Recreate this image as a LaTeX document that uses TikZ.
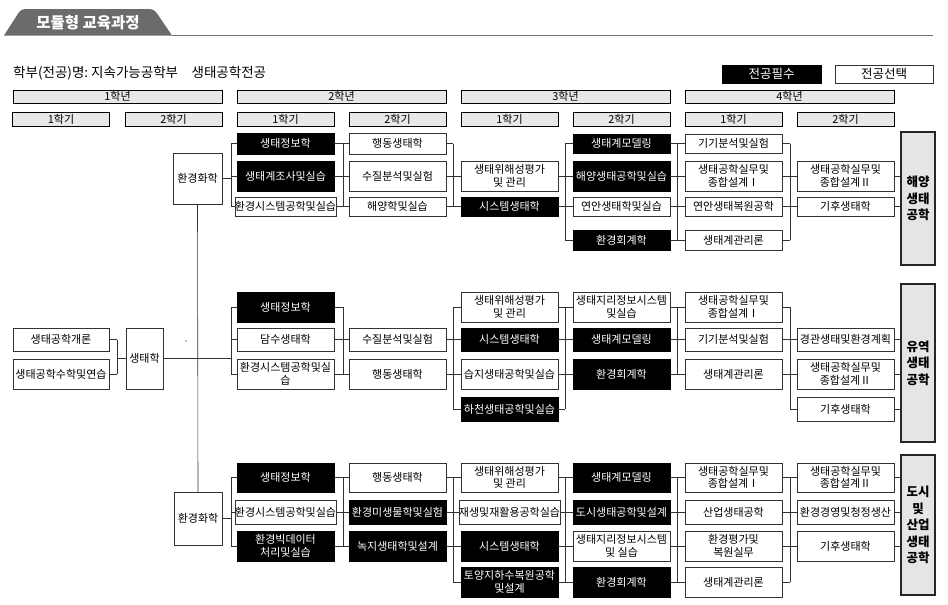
\documentclass[tikz,border=0pt]{standalone}
\usepackage{fontspec}
\setmainfont{Noto Sans CJK KR}
\usetikzlibrary{positioning}
\tikzset{>=stealth}
\colorlet{background}{white}
\colorlet{barfill}{black!9}
\colorlet{tabgray}{black!58}
\tikzset{
  coursebox/.style={draw=black!80, minimum width=97pt, inner sep=0pt, align=center,
    font=\fontsize{11}{12.5}\selectfont},
  reqbox/.style={coursebox, draw=black, fill=black, text=white},
  optbox/.style={coursebox, fill=white},
  termbar/.style={draw=black, line width=0.9pt, fill=barfill, inner sep=0pt,
    font=\fontsize{11}{11}\selectfont},
  trackbox/.style={draw=black!85, line width=1.2pt, fill=black!10, minimum width=34pt,
    inner sep=0pt, align=center, font=\bfseries\fontsize{12.5}{16.5}\selectfont},
  wire/.style={draw=black!80, line width=0.6pt}
}

\begin{document}
\begin{tikzpicture}[x=1pt,y=-1pt]
        \useasboundingbox (0,0) rectangle (948,605);
        % title tab
        \fill[tabgray] (4,35.5) [rounded corners=4pt] -- (21,9) -- (154,9) [sharp corners] -- (172,35.5) -- cycle;
        \node[text=white, font=\bfseries\fontsize{15.5}{15.5}\selectfont] (tab) at (88,22.5) {모듈형 교육과정};
        \draw[black!55, line width=1pt] (172,35.5) -- (933,35.5);
        \node[anchor=west, inner sep=0pt, font=\fontsize{13.5}{14}\selectfont] (dept) at (13,73) {학부(전공)명:\ 지속가능공학부\quad 생태공학전공};
        \node[reqbox, minimum width=99pt, minimum height=18pt, font=\fontsize{12.5}{12.5}\selectfont] (keyreq) at (771.5,74) {전공필수};
        \node[optbox, minimum width=98pt, minimum height=18pt, font=\fontsize{12.5}{12.5}\selectfont] (keyopt) at (884,74) {전공선택};
        % years and terms
        \foreach \x [count=\i] in {117.5,341.5,565.5,789.5}
          \node[termbar, minimum width=209pt, minimum height=13pt] (year\i) at (\x,96.5) {\i{}학년};
        \foreach \x/\t [count=\i] in {61/1,173.5/2,285.5/1,397.5/2,509.5/1,621.5/2,733.5/1,845.5/2}
          \node[termbar, minimum width=97pt, minimum height=14pt] (term\i) at (\x,119) {\t{}학기};
        % bus lines
        \coordinate (b2) at (117,0);
        \coordinate (b3) at (231,0);
        \coordinate (b4) at (343,0);
        \coordinate (b5) at (453,0);
        \coordinate (b6) at (565,0);
        \coordinate (b7) at (677,0);
        \coordinate (b8) at (790,0);

        % 해양생태공학
        \node[optbox, minimum width=49pt, minimum height=51pt] (mchem) at (197.5,178.5) {환경화학};
        \node[reqbox, minimum height=21pt] (m3a) at (285.5,143.5) {생태정보학};
        \node[reqbox, minimum height=30pt] (m3b) at (285.5,176) {생태계조사및실습};
        \node[optbox, minimum height=19pt] (m3c) at (285.5,206.5) {환경시스템공학및실습};
        \node[optbox, minimum height=21pt] (m4a) at (397.5,143.5) {행동생태학};
        \node[optbox, minimum height=30pt] (m4b) at (397.5,176) {수질분석및실험};
        \node[optbox, minimum height=19pt] (m4c) at (397.5,206.5) {해양학및실습};
        \node[optbox, minimum height=30pt] (m5b) at (509.5,176) {생태위해성평가\\및 관리};
        \node[reqbox, minimum height=19pt] (m5c) at (509.5,206.5) {시스템생태학};
        \node[reqbox, minimum height=19pt] (m6a) at (621.5,143.5) {생태계모델링};
        \node[reqbox, minimum height=30pt] (m6b) at (621.5,176) {해양생태공학및실습};
        \node[optbox, minimum height=19pt] (m6c) at (621.5,206.5) {연안생태학및실습};
        \node[reqbox, minimum height=20pt] (m6d) at (621.5,240) {환경회계학};
        \node[optbox, minimum height=19pt] (m7a) at (733.5,143.5) {기기분석및실험};
        \node[optbox, minimum height=30pt] (m7b) at (733.5,176) {생태공학실무및\\종합설계Ⅰ};
        \node[optbox, minimum height=19pt] (m7c) at (733.5,206.5) {연안생태복원공학};
        \node[optbox, minimum height=20pt] (m7d) at (733.5,240) {생태계관리론};
        \node[optbox, minimum height=30pt] (m8b) at (845.5,176) {생태공학실무및\\종합설계Ⅱ};
        \node[optbox, minimum height=19pt] (m8c) at (845.5,206.5) {기후생태학};
        \node[trackbox, minimum height=133pt] (mtrack) at (918,198.5) {해양\\생태\\공학};

        \draw[wire] (mchem.east) -- (mchem.east -| b3);
        \draw[wire] (b3 |- m3a.west) -- (b3 |- m3c.west);
        \foreach \n in {m3a,m3b,m3c} \draw[wire] (b3 |- \n.west) -- (\n.west);
        \foreach \n in {m3a,m3b,m3c} \draw[wire] (\n.east) -- (\n.east -| b4);
        \draw[wire] (b4 |- m4a.west) -- (b4 |- m4c.west);
        \foreach \n in {m4a,m4b,m4c} \draw[wire] (b4 |- \n.west) -- (\n.west);
        \foreach \n in {m4a,m4b,m4c} \draw[wire] (\n.east) -- (\n.east -| b5);
        \draw[wire] (b5 |- m4a.east) -- (b5 |- m5c.west);
        \foreach \n in {m5b,m5c} \draw[wire] (b5 |- \n.west) -- (\n.west);
        \foreach \n in {m5b,m5c} \draw[wire] (\n.east) -- (\n.east -| b6);
        \draw[wire] (b6 |- m6a.west) -- (b6 |- m6d.west);
        \foreach \n in {m6a,m6b,m6c,m6d} \draw[wire] (b6 |- \n.west) -- (\n.west);
        \foreach \n in {m6a,m6b,m6c,m6d} \draw[wire] (\n.east) -- (\n.east -| b7);
        \draw[wire] (b7 |- m7a.west) -- (b7 |- m7d.west);
        \foreach \n in {m7a,m7b,m7c,m7d} \draw[wire] (b7 |- \n.west) -- (\n.west);
        \foreach \n in {m7a,m7b,m7c,m7d} \draw[wire] (\n.east) -- (\n.east -| b8);
        \draw[wire] (b8 |- m7a.east) -- (b8 |- m7d.east);
        \foreach \n in {m8b,m8c} \draw[wire] (b8 |- \n.west) -- (\n.west);
        \foreach \n in {m8b,m8c} \draw[wire] (\n.east) -- (\n.east -| mtrack.west);

        % 유역생태공학
        \node[optbox, minimum width=96pt, minimum height=23pt] (w1a) at (61,339.5) {생태공학개론};
        \node[optbox, minimum width=96pt, minimum height=30pt] (w1b) at (61,374) {생태공학수학및연습};
        \node[optbox, minimum width=37pt, minimum height=61pt] (weco) at (144.5,358.5) {생태학};
        \node[reqbox, minimum height=30pt] (w3a) at (285.5,307) {생태정보학};
        \node[optbox, minimum height=23pt] (w3b) at (285.5,339.5) {담수생태학};
        \node[optbox, minimum height=30pt] (w3c) at (285.5,374) {환경시스템공학및실\\습};
        \node[optbox, minimum height=23pt] (w4b) at (397.5,339.5) {수질분석및실험};
        \node[optbox, minimum height=30pt] (w4c) at (397.5,374) {행동생태학};
        \node[optbox, minimum height=30pt] (w5a) at (509.5,307) {생태위해성평가\\및 관리};
        \node[reqbox, minimum height=23pt] (w5b) at (509.5,339.5) {시스템생태학};
        \node[optbox, minimum height=30pt] (w5c) at (509.5,374) {습지생태공학및실습};
        \node[reqbox, minimum height=24pt] (w5d) at (509.5,409) {하천생태공학및실습};
        \node[optbox, minimum height=30pt] (w6a) at (621.5,307) {생태지리정보시스템\\및실습};
        \node[reqbox, minimum height=23pt] (w6b) at (621.5,339.5) {생태계모델링};
        \node[reqbox, minimum height=30pt] (w6c) at (621.5,374) {환경회계학};
        \node[optbox, minimum height=30pt] (w7a) at (733.5,307) {생태공학실무및\\종합설계Ⅰ};
        \node[optbox, minimum height=23pt] (w7b) at (733.5,339.5) {기기분석및실험};
        \node[optbox, minimum height=30pt] (w7c) at (733.5,374) {생태계관리론};
        \node[optbox, minimum height=23pt] (w8b) at (845.5,339.5) {경관생태및환경계획};
        \node[optbox, minimum height=30pt] (w8c) at (845.5,374) {생태공학실무및\\종합설계Ⅱ};
        \node[optbox, minimum height=24pt] (w8d) at (845.5,409) {기후생태학};
        \node[trackbox, minimum height=158pt] (wtrack) at (918,363) {유역\\생태\\공학};
        \fill (186,341) circle (0.7pt);

        \foreach \n in {w1a,w1b} \draw[wire] (\n.east) -- (\n.east -| b2);
        \draw[wire] (b2 |- w1a.east) -- (b2 |- w1b.east);
        \draw[wire] (b2 |- weco.west) -- (weco.west);
        \draw[wire] (weco.east) -- (weco.east -| b3);
        \draw[wire] (b3 |- w3a.west) -- (b3 |- w3c.west);
        \foreach \n in {w3a,w3b,w3c} \draw[wire] (b3 |- \n.west) -- (\n.west);
        \foreach \n in {w3a,w3b,w3c} \draw[wire] (\n.east) -- (\n.east -| b4);
        \draw[wire] (b4 |- w3a.east) -- (b4 |- w3c.east);
        \foreach \n in {w4b,w4c} \draw[wire] (b4 |- \n.west) -- (\n.west);
        \foreach \n in {w4b,w4c} \draw[wire] (\n.east) -- (\n.east -| b5);
        \draw[wire] (b5 |- w5a.west) -- (b5 |- w5d.west);
        \foreach \n in {w5a,w5b,w5c,w5d} \draw[wire] (b5 |- \n.west) -- (\n.west);
        \foreach \n in {w5a,w5b,w5c,w5d} \draw[wire] (\n.east) -- (\n.east -| b6);
        \draw[wire] (b6 |- w5a.east) -- (b6 |- w5d.east);
        \foreach \n in {w6a,w6b,w6c} \draw[wire] (b6 |- \n.west) -- (\n.west);
        \foreach \n in {w6a,w6b,w6c} \draw[wire] (\n.east) -- (\n.east -| b7);
        \draw[wire] (b7 |- w7a.west) -- (b7 |- w7c.west);
        \foreach \n in {w7a,w7b,w7c} \draw[wire] (b7 |- \n.west) -- (\n.west);
        \foreach \n in {w7a,w7b,w7c} \draw[wire] (\n.east) -- (\n.east -| b8);
        \draw[wire] (b8 |- w7a.east) -- (b8 |- w8d.west);
        \foreach \n in {w8b,w8c,w8d} \draw[wire] (b8 |- \n.west) -- (\n.west);
        \foreach \n in {w8b,w8c,w8d} \draw[wire] (\n.east) -- (\n.east -| wtrack.west);

        % 도시 및 산업생태공학
        \node[optbox, minimum width=48pt, minimum height=53pt] (uchem) at (198,518.5) {환경화학};
        \node[reqbox, minimum height=29pt] (u3a) at (285.5,477.5) {생태정보학};
        \node[optbox, minimum height=24pt] (u3b) at (285.5,512) {환경시스템공학및실습};
        \node[reqbox, minimum height=30pt] (u3c) at (285.5,546) {환경빅데이터\\처리및실습};
        \node[optbox, minimum height=29pt] (u4a) at (397.5,477.5) {행동생태학};
        \node[reqbox, minimum height=24pt] (u4b) at (397.5,512) {환경미생물학및실험};
        \node[reqbox, minimum height=30pt] (u4c) at (397.5,546) {녹지생태학및설계};
        \node[optbox, minimum height=29pt] (u5a) at (509.5,477.5) {생태위해성평가\\및 관리};
        \node[optbox, minimum height=24pt] (u5b) at (509.5,512) {재생및재활용공학실습};
        \node[reqbox, minimum height=30pt] (u5c) at (509.5,546) {시스템생태학};
        \node[reqbox, minimum height=30pt] (u5d) at (509.5,582) {토양지하수복원공학\\및설계};
        \node[reqbox, minimum height=29pt] (u6a) at (621.5,477.5) {생태계모델링};
        \node[reqbox, minimum height=24pt] (u6b) at (621.5,512) {도시생태공학및설계};
        \node[optbox, minimum height=30pt] (u6c) at (621.5,546) {생태지리정보시스템\\및 실습};
        \node[reqbox, minimum height=30pt] (u6d) at (621.5,582) {환경회계학};
        \node[optbox, minimum height=29pt] (u7a) at (733.5,477.5) {생태공학실무및\\종합설계Ⅰ};
        \node[optbox, minimum height=24pt] (u7b) at (733.5,512) {산업생태공학};
        \node[optbox, minimum height=30pt] (u7c) at (733.5,546) {환경평가및\\복원실무};
        \node[optbox, minimum height=30pt] (u7d) at (733.5,582) {생태계관리론};
        \node[optbox, minimum height=29pt] (u8a) at (845.5,477.5) {생태공학실무및\\종합설계Ⅱ};
        \node[optbox, minimum height=24pt] (u8b) at (845.5,512) {환경경영및청정생산};
        \node[optbox, minimum height=30pt] (u8c) at (845.5,546) {기후생태학};
        \node[trackbox, minimum height=140pt] (utrack) at (918,525) {도시\\및\\산업\\생태\\공학};

        \draw[wire] (mchem.south) -- (uchem.north);
        \draw[wire] (uchem.east) -- (uchem.east -| b3);
        \draw[wire] (b3 |- u3a.west) -- (b3 |- u3c.west);
        \foreach \n in {u3a,u3b,u3c} \draw[wire] (b3 |- \n.west) -- (\n.west);
        \foreach \n in {u3a,u3b,u3c} \draw[wire] (\n.east) -- (\n.east -| b4);
        \draw[wire] (b4 |- u4a.west) -- (b4 |- u4c.west);
        \foreach \n in {u4a,u4b,u4c} \draw[wire] (b4 |- \n.west) -- (\n.west);
        \foreach \n in {u4a,u4b,u4c} \draw[wire] (\n.east) -- (\n.east -| b5);
        \draw[wire] (b5 |- u5a.west) -- (b5 |- u5d.west);
        \foreach \n in {u5a,u5b,u5c,u5d} \draw[wire] (b5 |- \n.west) -- (\n.west);
        \foreach \n in {u5a,u5b,u5c,u5d} \draw[wire] (\n.east) -- (\n.east -| b6);
        \draw[wire] (b6 |- u6a.west) -- (b6 |- u6d.west);
        \foreach \n in {u6a,u6b,u6c,u6d} \draw[wire] (b6 |- \n.west) -- (\n.west);
        \foreach \n in {u6a,u6b,u6c,u6d} \draw[wire] (\n.east) -- (\n.east -| b7);
        \draw[wire] (b7 |- u7a.west) -- (b7 |- u7d.west);
        \foreach \n in {u7a,u7b,u7c,u7d} \draw[wire] (b7 |- \n.west) -- (\n.west);
        \foreach \n in {u7a,u7b,u7c,u7d} \draw[wire] (\n.east) -- (\n.east -| b8);
        \draw[wire] (b8 |- u7a.east) -- (b8 |- u7d.east);
        \foreach \n in {u8a,u8b,u8c} \draw[wire] (b8 |- \n.west) -- (\n.west);
        \foreach \n in {u8a,u8b,u8c} \draw[wire] (\n.east) -- (\n.east -| utrack.west);
    \end{tikzpicture}
\end{document}
